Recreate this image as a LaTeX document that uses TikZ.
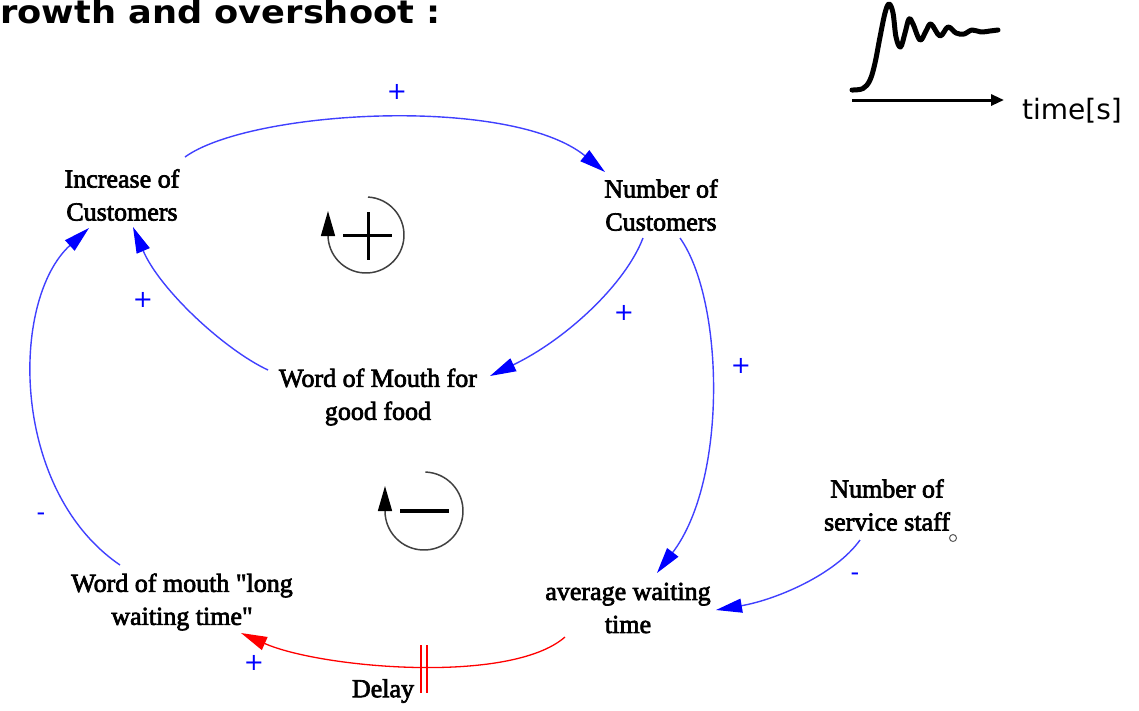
\documentclass[tikz,border=0pt]{standalone}
\usepackage{fontspec}
\usetikzlibrary{arrows.meta}
\newfontfamily\vfont{Liberation Serif}
\newfontfamily\dvs{DejaVu Sans}
\newfontfamily\dvsb{DejaVu Sans Bold}
\newcommand\heavyon{\special{pdf:literal direct 2 Tr 0.7 w}}
\newcommand\heavyoff{\special{pdf:literal direct 0 Tr}}
\begin{document}
\begin{tikzpicture}[x=1pt,y=-1pt,
  lab/.style={font=\vfont\fontsize{26}{33}\selectfont, align=center, inner sep=0pt,
    execute at begin node=\heavyon, execute at end node=\heavyoff},
  sgn/.style={font=\dvs\fontsize{24}{24}\selectfont, text=blue, inner sep=0pt},
  link/.style={draw=blue!75!white, line width=1.4pt, -{Triangle[length=26pt,width=14pt,color=blue]}},
  dlink/.style={draw=red, line width=1.3pt, -{Triangle[length=26pt,width=14pt,color=red]}},
  loopline/.style={draw=black!75, line width=1.5pt, -{Triangle[length=25pt,width=14pt,color=black]}},
  sgnbar/.style={line width=3pt, draw=black},
]
\useasboundingbox (0,0) rectangle (1139,710);

% title and time graph
\node[font=\dvsb\fontsize{32}{32}\selectfont, anchor=base west, inner sep=0pt] (title) at (0,23) {\scalebox{1.1}[1]{rowth and overshoot :}};
\node[font=\dvs\fontsize{28}{28}\selectfont, anchor=base west, inner sep=0pt] (tl) at (1022,119) {time[s]};
\coordinate (ax0) at (852,100);
\coordinate (ax1) at (1004,100);
\draw[line width=3pt, -{Triangle[length=13pt,width=11pt]}] (ax0) -- (ax1);
\draw[line width=5pt, line cap=round, line join=round] plot[smooth, tension=0.6] coordinates {
 (852,90) (863,88.5) (870,80) (875,63) (880,37) (885,13) (889,4) (893,13) (896,37) (900.5,47)
 (905,33) (909,19) (913,24) (920,40) (926,31) (931,24) (940,36) (948,27) (956,33)
 (964,34) (972,30) (981,32) (990,31) (998,30)};

% variables
\node[lab] (inc) at (122,195) {Increase of\\Customers};
\node[lab] (num) at (661,205) {Number of\\Customers};
\node[lab] (wom) at (378,397) {Word of Mouth for\\good food};
\node[lab] (woml) at (182,602) {Word of mouth "long\\waiting time"};
\node[lab] (awt) at (628,608) {average waiting\\time};
\node[lab] (staff) at (887,505) {Number of\\service staff};
\node[lab] (delay) at (383,691) {Delay};
\node[circle, draw=black!65, line width=1pt, minimum size=7pt, inner sep=0pt] (dia) at (953,538) {};

% links
\draw[link] ([shift={(63,-38)}]inc.center) .. controls (250,110) and (510,95) .. ([shift={(-56,-33)}]num.center);
\draw[link] ([shift={(-18,33)}]num.center) .. controls (625,285) and (565,340) .. ([shift={(112,-21)}]wom.center);
\draw[link] ([shift={(-110,-27)}]wom.center) .. controls (225,350) and (160,290) .. ([shift={(11,32)}]inc.center);
\draw[link] ([shift={(19,33)}]num.center) .. controls (724,300) and (728,480) .. ([shift={(29,-35)}]awt.center);
\draw[link] ([shift={(-27,35)}]staff.center) .. controls (835,575) and (775,600) .. ([shift={(88,2)}]awt.center);
\draw[link] ([shift={(-62,-37)}]woml.center) .. controls (10,490) and (10,300) .. ([shift={(-33,33)}]inc.center);
\draw[dlink] ([shift={(-63,29)}]awt.center) .. controls (510,685) and (320,668) .. ([shift={(59,31)}]woml.center);
\draw[red, line width=1.3pt] ([shift={(38,-46)}]delay.center) -- ([shift={(38,2)}]delay.center);
\draw[red, line width=1.3pt] ([shift={(44,-46)}]delay.center) -- ([shift={(44,2)}]delay.center);

% polarity signs
\node[sgn] (p1) at (397,92) {+};
\node[sgn] (p2) at (624,313) {+};
\node[sgn] (p3) at (143,300) {+};
\node[sgn] (p4) at (741,366) {+};
\node[sgn] (p5) at (254,663) {+};
\node[sgn] (m1) at (855,577) {-};
\node[sgn] (m2) at (41,517) {-};

% loop symbols
\node[inner sep=0pt, minimum size=76pt] (pl) at (366,235) {};
\draw[loopline] ([shift={(-87:38)}]pl.center) arc[start angle=-87, end angle=180, radius=38] -- ++(0,-24);
\draw[sgnbar] ([shift={(-23,0)}]pl.center) -- ([shift={(26,0)}]pl.center);
\draw[sgnbar] ([shift={(2,-23)}]pl.center) -- ([shift={(2,25)}]pl.center);
\node[inner sep=0pt, minimum size=78pt] (nl) at (424,511) {};
\draw[loopline] ([shift={(-88:39)}]nl.center) arc[start angle=-88, end angle=180, radius=39] -- ++(0,-25);
\draw[line width=3.5pt] ([shift={(-24,0)}]nl.center) -- ([shift={(25,0)}]nl.center);
\end{tikzpicture}
\end{document}
